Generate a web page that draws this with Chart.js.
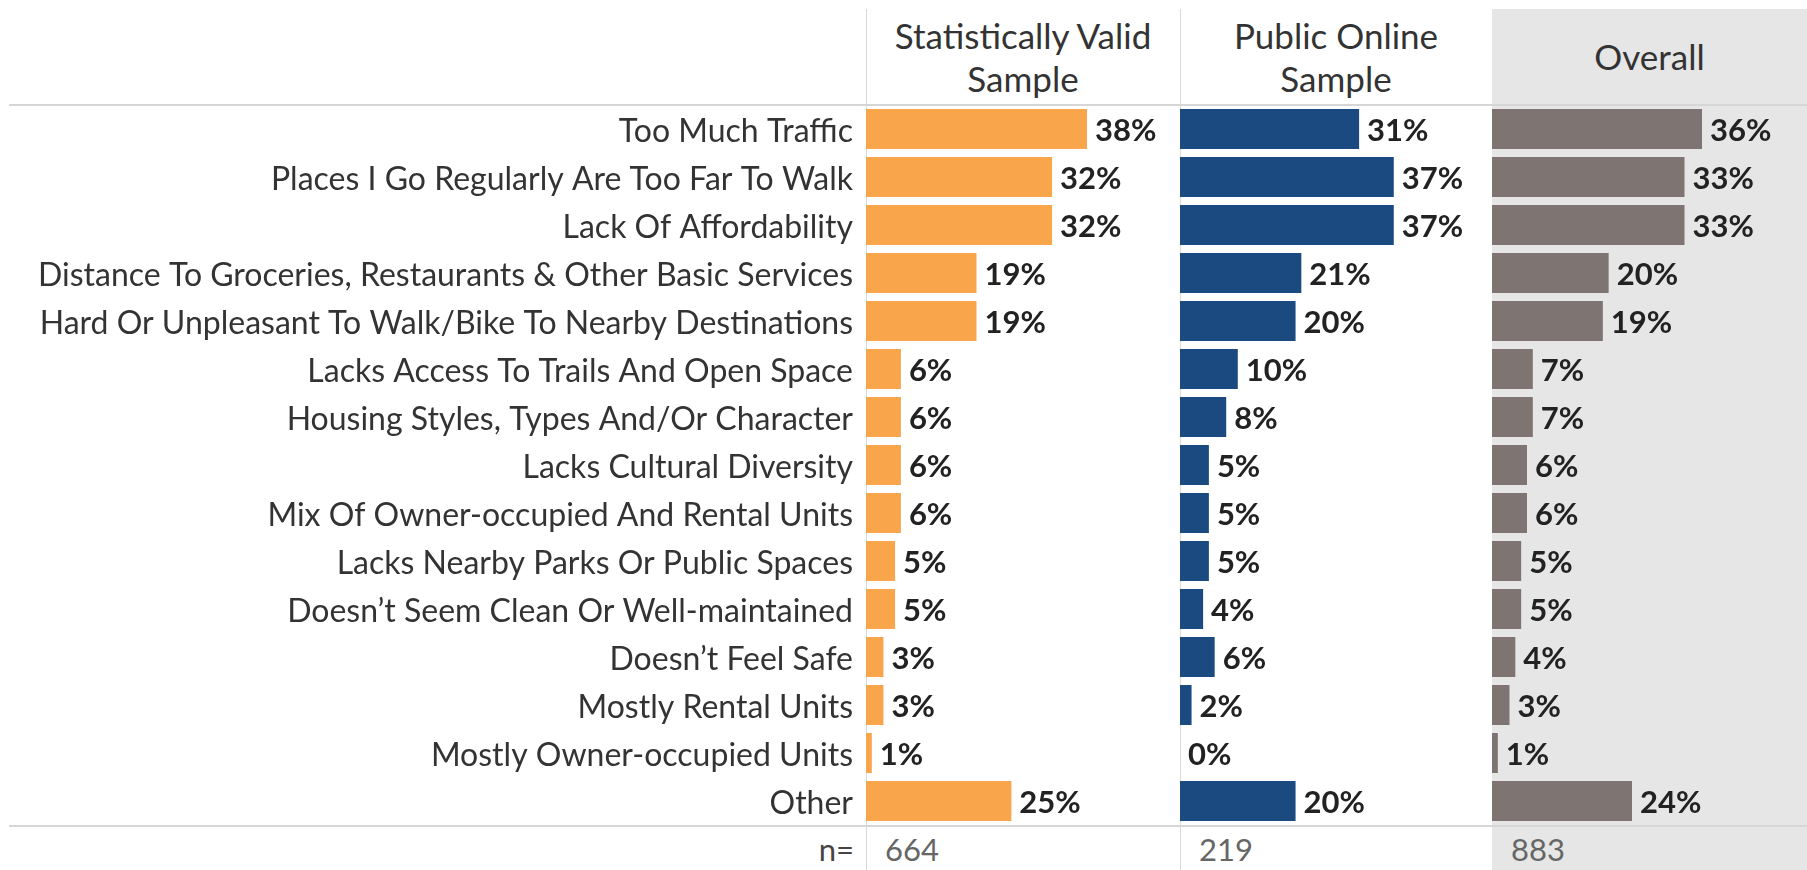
<!DOCTYPE html>
<html>
<head>
<meta charset="utf-8">
<script src="https://cdn.jsdelivr.net/npm/chart.js@4.4.1/dist/chart.umd.min.js"></script>
<style>
  html, body { margin:0; padding:0; background:#fff; }
  #wrap { position:relative; width:1807px; height:870px; overflow:hidden; font-family: Lato, sans-serif; }
  .abs { position:absolute; }
  .vline { position:absolute; width:1px; background:#d9d9d9; top:9px; height:861px; }
  .hline { position:absolute; left:9px; width:1798px; height:2px; background:#d6d6d6; }
  .hdr { position:absolute; top:9px; height:95px; display:flex; align-items:center; justify-content:center; text-align:center; color:#333; font-size:35px; line-height:43px; }
  .nval { position:absolute; top:829px; height:40px; line-height:40px; color:#666; font-size:31px; }
  canvas { position:absolute; }
</style>
</head>
<body>
<div id="wrap">
  <div class="abs" style="left:1492px;top:9px;width:315px;height:861px;background:#e6e6e6;"></div>
  <div class="vline" style="left:866px;"></div>
  <div class="vline" style="left:1180px;"></div>
  <div class="hline" style="top:104px;"></div>
  <div class="hline" style="top:825px;"></div>
  <div id="headers"></div>
  <div id="nrow"></div>
  <canvas id="c1" width="1180" height="720" style="left:0;top:105px;"></canvas>
  <canvas id="c2" width="312" height="720" style="left:1180px;top:105px;"></canvas>
  <canvas id="c3" width="315" height="720" style="left:1492px;top:105px;"></canvas>
</div>
<script>
const categories = [
  "Too Much Traffic",
  "Places I Go Regularly Are Too Far To Walk",
  "Lack Of Affordability",
  "Distance To Groceries, Restaurants & Other Basic Services",
  "Hard Or Unpleasant To Walk/Bike To Nearby Destinations",
  "Lacks Access To Trails And Open Space",
  "Housing Styles, Types And/Or Character",
  "Lacks Cultural Diversity",
  "Mix Of Owner-occupied And Rental Units",
  "Lacks Nearby Parks Or Public Spaces",
  "Doesn\u2019t Seem Clean Or Well-maintained",
  "Doesn\u2019t Feel Safe",
  "Mostly Rental Units",
  "Mostly Owner-occupied Units",
  "Other"
];
const statValidValues = [38, 32, 32, 19, 19, 6, 6, 6, 6, 5, 5, 3, 3, 1, 25];
const publicOnlineValues = [31, 37, 37, 21, 20, 10, 8, 5, 5, 5, 4, 6, 2, 0, 20];
const overallValues = [36, 33, 33, 20, 19, 7, 7, 6, 6, 5, 5, 4, 3, 1, 24];
const panelTitles = [["Statistically Valid", "Sample"], ["Public Online", "Sample"], ["Overall"]];
const sampleSizes = ["664", "219", "883"];
const nLabel = "n=";

const FONT = "Lato";
const FS = 32;
const VFS = 31;
const panelX = [866, 1180, 1492];
const panelW = [314, 312, 315];

// headers
const hdr = document.getElementById('headers');
panelTitles.forEach((t, i) => {
  const d = document.createElement('div');
  d.className = 'hdr';
  d.style.left = panelX[i] + 'px';
  d.style.width = panelW[i] + 'px';
  d.innerHTML = t.join('<br>');
  hdr.appendChild(d);
});
// n row
const nr = document.getElementById('nrow');
const nl = document.createElement('div');
nl.className = 'nval';
nl.style.left = '0px'; nl.style.width = '854px'; nl.style.textAlign = 'right'; nl.style.color = '#444';
nl.textContent = nLabel;
nr.appendChild(nl);
sampleSizes.forEach((v, i) => {
  const d = document.createElement('div');
  d.className = 'nval';
  d.style.left = (panelX[i] + 19) + 'px';
  d.textContent = v;
  nr.appendChild(d);
});

const valueLabels = {
  id: 'valueLabels',
  afterDatasetsDraw(chart) {
    const ctx = chart.ctx;
    const meta = chart.getDatasetMeta(0);
    const vals = chart.data.datasets[0].data;
    ctx.save();
    ctx.font = `bold ${VFS}px ${FONT}`;
    ctx.fillStyle = '#222';
    ctx.textAlign = 'left';
    ctx.textBaseline = 'middle';
    meta.data.forEach((bar, i) => {
      ctx.fillText(vals[i] + '%', bar.x + 8, bar.y + 2);
    });
    ctx.restore();
  }
};

function makeChart(id, values, color, showLabels) {
  return new Chart(document.getElementById(id), {
    type: 'bar',
    data: {
      labels: categories,
      datasets: [{ data: values, backgroundColor: color, barPercentage: 0.833, categoryPercentage: 1 }]
    },
    options: {
      indexAxis: 'y',
      responsive: false,
      maintainAspectRatio: false,
      animation: false,
      layout: { padding: 0 },
      plugins: { legend: { display: false }, tooltip: { enabled: false } },
      scales: {
        x: { display: false, min: 0, max: 54 },
        y: {
          display: showLabels,
          grid: { display: false, drawTicks: false },
          border: { display: false },
          ticks: { color: '#333', font: { family: FONT, size: FS }, padding: 13, autoSkip: false, labelOffset: 3 },
          afterFit(s) {
            if (showLabels) { s.width = 866; s.paddingTop = 0; s.paddingBottom = 0; }
          }
        }
      }
    },
    plugins: [valueLabels]
  });
}
makeChart('c1', statValidValues, '#F9A54B', true);
makeChart('c2', publicOnlineValues, '#1B4A80', false);
makeChart('c3', overallValues, '#7E7471', false);
</script>
</body>
</html>
